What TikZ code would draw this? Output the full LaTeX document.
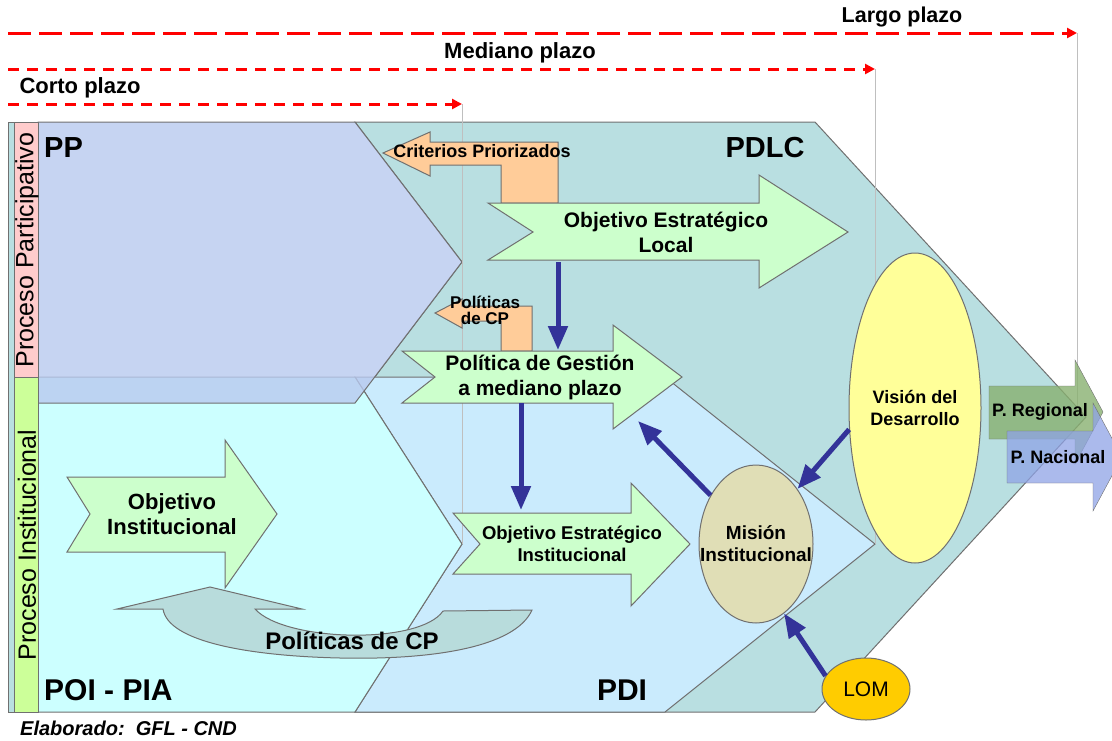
\documentclass[tikz,border=0pt]{standalone}
\usepackage{fontspec}
\setmainfont{Liberation Sans}
\usetikzlibrary{positioning}
\usetikzlibrary{shapes.geometric}
\usetikzlibrary{arrows.meta}

\definecolor{pdlcteal}{HTML}{B9DFE1}
\definecolor{pplav}{HTML}{B8C9EF}
\definecolor{poicyan}{HTML}{CCFFFF}
\definecolor{pdiblue}{HTML}{CAEBFD}
\definecolor{arrgreen}{HTML}{CCFFCC}
\definecolor{arrorange}{HTML}{FFCC99}
\definecolor{bandteal}{HTML}{B8DCDC}
\definecolor{misionbeige}{HTML}{E0DEB6}
\definecolor{visionyellow}{HTML}{FFFF99}
\definecolor{lomgold}{HTML}{FFCC00}
\definecolor{flowblue}{HTML}{333399}
\definecolor{regionalgreen}{HTML}{88B070}
\definecolor{nacionalblue}{HTML}{8FA3E6}
\definecolor{edgegray}{HTML}{707070}
\definecolor{strippink}{HTML}{FFCCCC}
\definecolor{stripgreen}{HTML}{CCFF99}

\tikzset{
  zone/.style = {draw = edgegray, line width = 1pt},
  bigarrow/.style = {draw = edgegray, fill = arrgreen, line width = 1pt},
  sidearrow/.style = {draw = edgegray, fill = arrorange, line width = 1pt},
  flow/.style = {draw = flowblue, line width = 5pt, -{Triangle[length = 24pt, width = 19pt]}},
  plazo/.style = {draw = red, line width = 3pt, -{Triangle[length = 10pt, width = 10pt]}},
  guide/.style = {draw = gray!50, line width = 0.8pt},
  txt/.style 2 args = {font = \fontsize{#1}{#2}\selectfont\bfseries, align = center, text = black, inner sep = 0pt},
  oval/.style = {ellipse, draw = edgegray, line width = 1pt, inner sep = 0pt}
}

\begin{document}
\begin{tikzpicture}[x = 1pt, y = -1pt]
\useasboundingbox (0, 0) rectangle (1112, 740);
\clip (0, 0) rectangle (1112, 740);

% zonas de planificacion
\draw [zone, fill = pdlcteal] (355, 122) -- (815, 122) -- (1086, 417) -- (815, 712) -- (355, 712) -- (355, 403) -- (462, 262) -- cycle;
\draw [zone, fill = pdiblue] (355, 377) -- (665, 377) -- (875, 544) -- (665, 712) -- (355, 712) -- (462, 544) -- cycle;
\draw [zone, fill = poicyan] (38, 377) -- (355, 377) -- (462, 544) -- (355, 712) -- (38, 712) -- cycle;
\draw [zone, fill = pplav, fill opacity = 0.8] (38, 122) -- (355, 122) -- (462, 262) -- (355, 403) -- (38, 403) -- cycle;

% franja de procesos
\draw [zone, fill = pdlcteal] (8, 122) rectangle (38, 712);
\draw [zone, fill = strippink] (14, 122) rectangle (38, 377);
\draw [zone, fill = stripgreen] (14, 377) rectangle (38, 712);
\node [rotate = 90, font = \fontsize{25}{25}\selectfont, inner sep = 0pt] (participativo) at (27, 250) {Proceso Participativo};
\node [rotate = 90, font = \fontsize{25}{25}\selectfont, inner sep = 0pt] (institucional) at (27, 545) {Proceso Institucional};

% horizontes de tiempo
\coordinate (largo-ini) at (8, 33);
\coordinate (largo-fin) at (1077, 33);
\coordinate (mediano-ini) at (8, 69);
\coordinate (mediano-fin) at (875, 69);
\coordinate (corto-ini) at (8, 104);
\coordinate (corto-fin) at (462, 104);
\draw [guide] (largo-fin) -- (1077, 417);
\draw [guide] (mediano-fin) -- (875, 544);
\draw [guide] (corto-fin) -- (462, 544);
\draw [plazo, dash pattern = on 23pt off 8pt] (largo-ini) -- (largo-fin);
\draw [plazo, dash pattern = on 11pt off 8pt] (mediano-ini) -- (mediano-fin);
\draw [plazo, dash pattern = on 11pt off 8pt] (corto-ini) -- (corto-fin);
\node [txt = {21.5}{21.5}] (largo) at (902, 17) {Largo plazo};
\node [txt = {22}{22}] (mediano) at (520, 53) {Mediano plazo};
\node [txt = {22}{22}] (corto) at (80, 88) {Corto plazo};

% politicas de CP (flecha curva)
\draw [zone, fill = bandteal] (117, 609) -- (210, 587) -- (302, 609) -- (255, 609)
  .. controls (285, 642) and (420, 645) .. (443, 611) -- (532, 610)
  .. controls (515, 648) and (430, 660) .. (340, 658)
  .. controls (250, 656) and (168, 642) .. (163, 609) -- cycle;
\node [txt = {24}{24}] (cpband) at (352, 641) {Políticas de CP};

% flechas naranjas
\draw [sidearrow] (383, 153) -- (430, 132) -- (430, 142) -- (558, 142) -- (558, 203) -- (501, 203) -- (501, 165) -- (430, 165) -- (430, 176) -- cycle;
\draw [sidearrow] (435, 313) -- (462, 299) -- (462, 306) -- (532, 306) -- (532, 351) -- (501, 351) -- (501, 321) -- (462, 321) -- (462, 328) -- cycle;
\node [txt = {18}{18}] (criterios) at (482, 151) {Criterios Priorizados};
\node [txt = {17}{16}] (politicascp) at (485, 310) {Políticas\\de CP};

% flechas verdes
\draw [bigarrow] (488, 203) -- (759, 203) -- (759, 175) -- (848, 232) -- (759, 288) -- (759, 260) -- (488, 260) -- (533, 232) -- cycle;
\draw [bigarrow] (402, 351) -- (613, 351) -- (613, 325) -- (682, 377) -- (613, 429) -- (613, 403) -- (402, 403) -- (435, 377) -- cycle;
\draw [bigarrow] (453, 513) -- (631, 513) -- (631, 483) -- (690, 544) -- (631, 606) -- (631, 574) -- (453, 574) -- (480, 544) -- cycle;
\draw [bigarrow] (67, 477) -- (225, 477) -- (225, 440) -- (277, 514) -- (225, 588) -- (225, 552) -- (67, 552) -- (90, 514) -- cycle;
\node [txt = {21}{25}] (oel) at (666, 232) {Objetivo Estratégico\\Local};
\node [txt = {21}{25}] (pgm) at (540, 377) {Política de Gestión\\a mediano plazo};
\node [txt = {18.5}{22}] (oei) at (572, 544) {Objetivo Estratégico\\Institucional};
\node [txt = {22}{25}] (oi) at (172, 514) {Objetivo\\Institucional};

% mision, vision y ley
\node [oval, fill = misionbeige, minimum width = 114pt, minimum height = 158pt] (mision) at (756, 544) {};
\node [txt = {19}{22}] (misiontxt) at (mision.center) {Misión\\Institucional};
\node [oval, fill = visionyellow, minimum width = 132pt, minimum height = 310pt] (vision) at (915, 408) {};
\node [txt = {18}{22}] (visiontxt) at (vision.center) {Visión del\\Desarrollo};
\node [oval, fill = lomgold, minimum width = 88pt, minimum height = 62pt] (lom) at (866, 689) {};
\node [font = \fontsize{21}{21}\selectfont, inner sep = 0pt] (lomtxt) at (lom.center) {LOM};

% planes regional y nacional
\draw [draw = edgegray, fill = regionalgreen, fill opacity = 0.8] (989, 386) -- (1075, 386) -- (1075, 360) -- (1103, 412) -- (1075, 464) -- (1075, 439) -- (989, 439) -- cycle;
\draw [draw = edgegray, fill = nacionalblue, fill opacity = 0.75] (1007, 431) -- (1093, 431) -- (1093, 403) -- (1122, 457) -- (1093, 511) -- (1093, 483) -- (1007, 483) -- cycle;
\node [txt = {18}{18}] (regional) at (1040, 412) {P. Regional};
\node [txt = {18}{18}] (nacional) at (1058, 457) {P. Nacional};

% relaciones
\coordinate (oel-s) at (558, 262);
\coordinate (pgm-n) at (558, 350);
\coordinate (pgm-s) at (521, 403);
\coordinate (oei-n) at (521, 510);
\coordinate (pgm-se) at (638, 421);
\draw [flow] (oel-s) -- (pgm-n);
\draw [flow] (pgm-s) -- (oei-n);
\draw [flow] (mision.133) -- (pgm-se);
\draw [flow] (vision.198) -- (mision.53);
\draw [flow] (lom.162) -- (mision.-68);

% nombres de los planes
\node [txt = {29}{29}, anchor = west] (pp) at (44, 148) {PP};
\node [txt = {29}{29}] (pdlc) at (765, 148) {PDLC};
\node [txt = {30}{30}, anchor = west] (poi) at (44, 690) {POI - PIA};
\node [txt = {30}{30}] (pdi) at (622, 690) {PDI};
\node [txt = {20}{20}, font = \fontsize{20}{20}\selectfont\bfseries\itshape, anchor = west] (elaborado) at (20, 728) {Elaborado:\ \ GFL - CND};
\end{tikzpicture}
\end{document}
